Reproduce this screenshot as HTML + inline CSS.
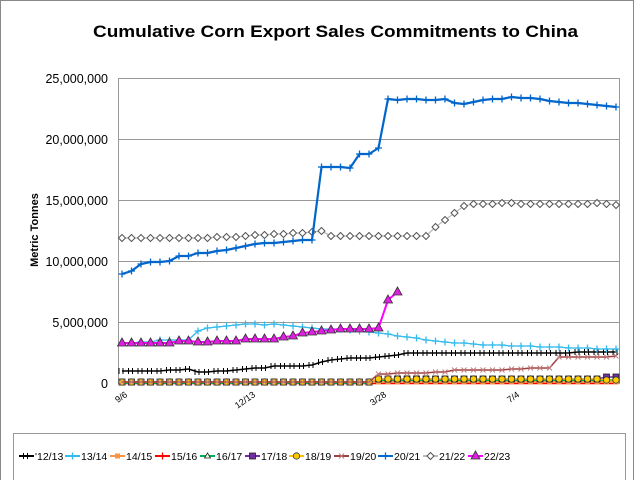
<!DOCTYPE html>
<html><head><meta charset="utf-8"><style>
body{margin:0;background:#fff;}
svg{display:block;font-family:"Liberation Sans",Arial,sans-serif;}
</style></head><body>
<svg id="s" width="640" height="480" viewBox="0 0 640 480" xmlns="http://www.w3.org/2000/svg">
<rect x="0.5" y="0.5" width="633" height="490" fill="#fff" stroke="#888"/>
<text x="93" y="37" font-size="17" font-weight="bold" textLength="485" lengthAdjust="spacingAndGlyphs">Cumulative Corn Export Sales Commitments to China</text>
<g stroke="#999" stroke-width="1">
<line x1="118" y1="78.5" x2="620" y2="78.5"/><line x1="118" y1="139.5" x2="620" y2="139.5"/>
<line x1="118" y1="200.5" x2="620" y2="200.5"/><line x1="118" y1="261.5" x2="620" y2="261.5"/>
<line x1="118" y1="322.5" x2="620" y2="322.5"/><line x1="118" y1="383.5" x2="620" y2="383.5"/>
<line x1="118.5" y1="78" x2="118.5" y2="384"/><line x1="619.5" y1="78" x2="619.5" y2="384"/>
</g>
<g font-size="12.5" text-anchor="end">
<text x="108" y="83">25,000,000</text><text x="108" y="144">20,000,000</text>
<text x="108" y="205">15,000,000</text><text x="108" y="266">10,000,000</text>
<text x="108" y="327">5,000,000</text><text x="108" y="388">0</text>
</g>
<text transform="translate(38,230) rotate(-90)" font-size="11" font-weight="bold" text-anchor="middle">Metric Tonnes</text>
<g font-size="9" text-anchor="end">
<text transform="translate(128,396) rotate(-35)">9/6</text>
<text transform="translate(256,396) rotate(-35)">12/13</text>
<text transform="translate(387,396) rotate(-35)">3/28</text>
<text transform="translate(520,396) rotate(-35)">7/4</text>
</g>
<g id="series"></g>
<rect x="13.5" y="433.5" width="612" height="60" fill="none" stroke="#999"/>
<g id="leg" font-size="10.5"></g>
</svg>
<script>
var NS="http://www.w3.org/2000/svg";
var g=document.getElementById('series');
function X(i){return 122+i*9.5;}
function el(t,a,p){var e=document.createElementNS(NS,t);for(var k in a)e.setAttribute(k,a[k]);(p||g).appendChild(e);return e;}
function mark(type,x,y,col,p){
 p=p||g;
 if(type=='plus'){el('path',{d:'M'+(x-3.5)+' '+y+'h7M'+x+' '+(y-3.5)+'v7',stroke:col,'stroke-width':1.3},p);}
 else if(type=='diam'){el('path',{d:'M'+x+' '+(y-3.5)+'l3.5 3.5l-3.5 3.5l-3.5 -3.5z',fill:'#fff',stroke:'#555','stroke-width':1},p);}
 else if(type=='tri'){el('path',{d:'M'+x+' '+(y-5)+'l4.5 8h-9z',fill:'#e020e0',stroke:'#333','stroke-width':0.8},p);}
 else if(type=='circ'){el('circle',{cx:x,cy:y,r:3.2,fill:'#ffcc00',stroke:'#333','stroke-width':0.8},p);}
 else if(type=='sq'){el('rect',{x:x-3,y:y-3,width:6,height:6,fill:'#7030a0',stroke:'#222','stroke-width':0.8},p);}
 else if(type=='x'){el('path',{d:'M'+(x-2.5)+' '+(y-2.5)+'l5 5M'+(x+2.5)+' '+(y-2.5)+'l-5 5',stroke:'#c08080','stroke-width':1},p);}
 else if(type=='bar'){el('path',{d:'M'+(x-3)+' '+(y-3)+'v6M'+(x+1)+' '+(y-3)+'v6',stroke:col,'stroke-width':1},p);}
 else if(type=='sqo'){el('rect',{x:x-2.5,y:y-2.5,width:5,height:5,fill:'#f79646'},p);}
 else if(type=='trs'){el('path',{d:'M'+x+' '+(y-3)+'l3 5h-6z',fill:'#fff',stroke:'#222','stroke-width':0.8},p);}
}
function series(ys,col,w,type,start){
 start=start||0;var pts=ys.map(function(y,i){return X(i+start)+','+y;}).join(' ');
 el('polyline',{points:pts,fill:'none',stroke:col,'stroke-width':w,'stroke-linejoin':'round'});
 if(type)ys.forEach(function(y,i){mark(type,X(i+start),y,col);});
}
function fill(n,v){var a=[];for(var i=0;i<n;i++)a.push(v);return a;}
series(fill(53,383),'#ff0000',2.5,null);
series(fill(27,383).concat(fill(26,380)),'#00b050',2,'trs');
series(fill(53,382),'#f79646',2,'sqo');
series(fill(27,382).concat(fill(24,379)).concat([377,377]),'#7030a0',1.5,'sq');
series(fill(27,382).concat(fill(24,379)).concat([380,380]),'#ffc000',1.2,'circ');
series(fill(27,382).concat([374,374,373,373,373,373,372,372,370,370,370,370,370,370,369,369,368,368,368,357,357,357,357,357,357,356,356,356,356,355]).slice(0,53),'#a04040',1.5,'x');
series([371,371,371,371,371,370,370,369,372,372,371,371,370,369,368,368,366,366,366,366,365,362,360,359,358,358,358,357,356,355,353,353,353,353,353,353,353,353,353,353,353,353,353,353,353,353,353,353,352,352,352,352,352],'#000',1.5,'bar');
series([343,343,342,342,340,340,340,340,331,328,327,326,325,324,324,325,324,325,326,327,328,329,329,329,330,331,332,333,334,336,337,338,340,341,342,343,343,344,345,345,345,346,346,346,347,347,347,348,348,348,349,349,349],'#33bbee',1.3,'plus');
series([238,238,238,238,238,238,238,238,238,238,237,237,237,236,235,235,234,234,233,233,232,231,236,236,236,236,236,236,236,236,236,236,236,227,220,213,206,204,204,204,203,203,204,204,204,204,204,204,204,204,203,204,205],'#bbb',1.3,'diam');
series([274,271,264,262,262,261,256,256,253,253,251,250,248,246,244,243,243,242,241,240,240,167,167,167,168,154,154,148,99,100,99,99,100,100,99,103,104,102,100,99,99,97,98,98,99,101,102,103,103,104,105,106,107],'#0066cc',2.2,'plus');
series([343,343,343,343,343,343,341,341,342,342,341,341,341,339,339,339,339,337,336,333,332,331,330,329,329,329,329,328,300,292],'#ff00ff',2,'tri');
var L=document.getElementById('leg');
var items=[["'12/13",'#000','bar'],['13/14','#33bbee','plus'],['14/15','#f79646','sqo'],['15/16','#ff0000','plus'],['16/17','#00b050','trs'],['17/18','#7030a0','sq'],['18/19','#ffc000','circ'],['19/20','#a04040','x'],['20/21','#0066cc','plus'],['21/22','#bbb','diam'],['22/23','#ff00ff','tri']];
var xs=[19,65,110,155,200,245,289,334,378,423,468];
items.forEach(function(it,i){
 var x=xs[i],y=456;
 el('line',{x1:x,y1:y,x2:x+15,y2:y,stroke:it[1],'stroke-width':2},L);
 mark(it[2],x+7.5,y,it[1],L);
 var tx=el('text',{x:x+16,y:y+4},L);tx.textContent=it[0];
});
</script>
</body></html>
